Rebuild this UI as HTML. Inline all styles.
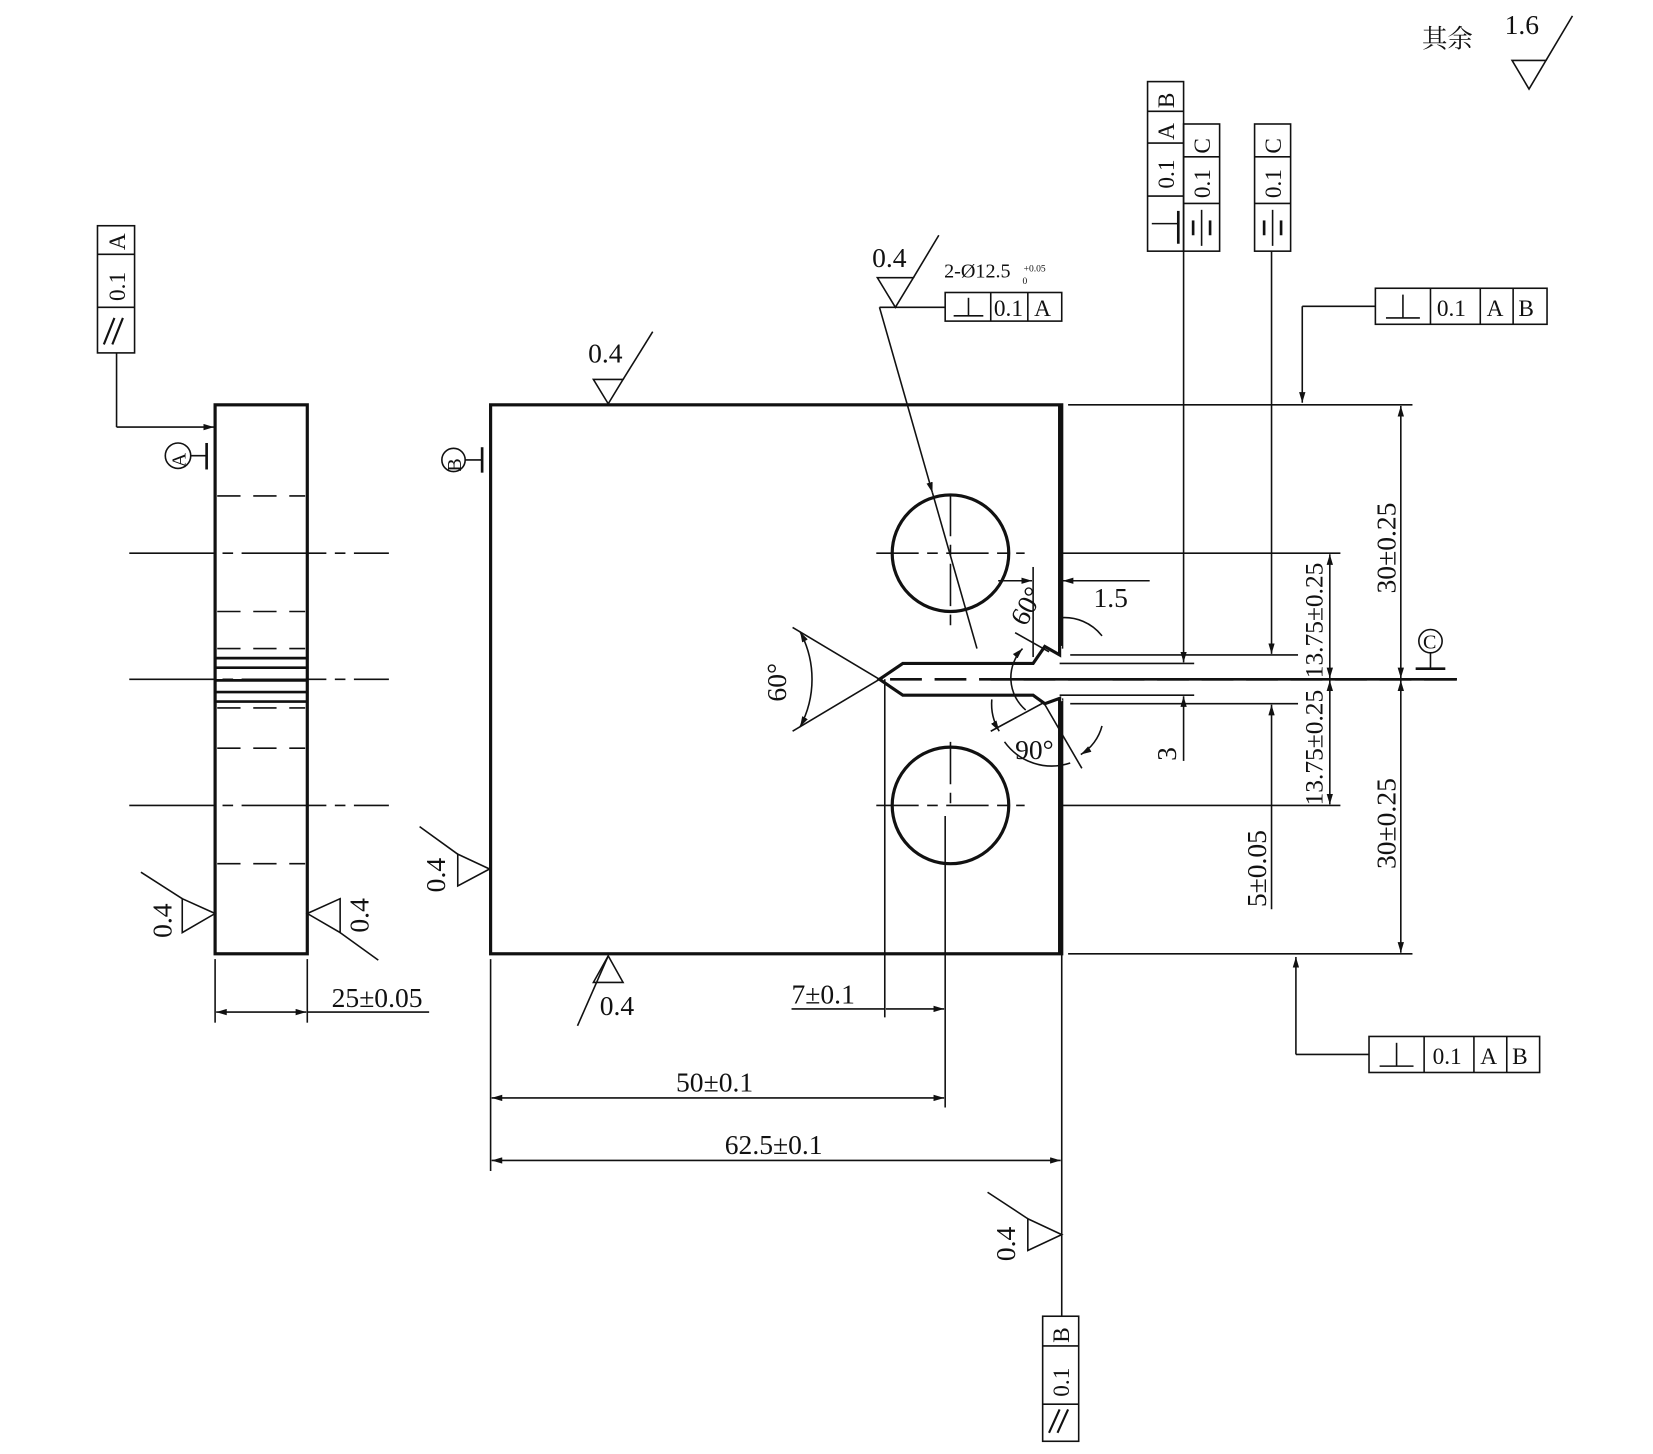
<!DOCTYPE html>
<html><head><meta charset="utf-8"><style>
html,body{margin:0;padding:0;background:#fff;}
svg{display:block;}
text{font-family:"Liberation Serif","Noto Serif CJK SC",serif;fill:#111;}
</style></head><body>
<svg width="1653" height="1454" viewBox="0 0 1560 1372" preserveAspectRatio="none" xmlns="http://www.w3.org/2000/svg">
<defs>
<marker id="ar" viewBox="0 0 10 6" refX="10" refY="3" markerWidth="10" markerHeight="6" orient="auto-start-reverse" markerUnits="userSpaceOnUse"><path d="M0,0L10,3L0,6z" fill="#111"/></marker>
</defs>
<g stroke="#111" fill="none" stroke-width="1.5">
<rect x="203" y="382" width="87" height="518" stroke-width="3"/>
<g stroke-dasharray="22,12" stroke-width="1.5">
<line x1="205" y1="468" x2="288" y2="468"/><line x1="205" y1="577" x2="288" y2="577"/>
<line x1="205" y1="612" x2="288" y2="612"/><line x1="205" y1="668" x2="288" y2="668"/>
<line x1="205" y1="706" x2="288" y2="706"/><line x1="205" y1="815" x2="288" y2="815"/>
</g>
<g stroke-dasharray="80,8,10,8">
<line x1="122" y1="522" x2="367" y2="522"/><line x1="122" y1="641" x2="367" y2="641"/><line x1="122" y1="760" x2="367" y2="760"/>
</g>
<g stroke-width="2.5"><line x1="203" y1="621" x2="290" y2="621"/><line x1="203" y1="630" x2="290" y2="630"/><line x1="203" y1="642" x2="290" y2="642"/><line x1="203" y1="653" x2="290" y2="653"/><line x1="203" y1="662" x2="290" y2="662"/></g>
<circle cx="168" cy="430" r="12"/><line x1="180" y1="430" x2="195" y2="430"/><line x1="195" y1="418" x2="195" y2="443" stroke-width="2.5"/>
<rect x="92" y="213" width="35" height="120"/><line x1="92" y1="240" x2="127" y2="240"/><line x1="92" y1="290" x2="127" y2="290"/>
<line x1="110" y1="333" x2="110" y2="403"/><line x1="110" y1="403" x2="202" y2="403" marker-end="url(#ar)"/>
<line x1="98" y1="325" x2="108" y2="300" stroke-width="2"/><line x1="106" y1="325" x2="116" y2="300" stroke-width="2"/>
<line x1="203" y1="905" x2="203" y2="965"/><line x1="290" y1="905" x2="290" y2="965"/>
<line x1="204" y1="955" x2="289" y2="955" marker-start="url(#ar)" marker-end="url(#ar)"/><line x1="290" y1="955" x2="405" y2="955"/>
<path d="M203,862 L172,848 L172,880 Z"/><line x1="172" y1="848" x2="133" y2="823"/>
<path d="M290,862 L321,848 L321,880 Z"/><line x1="321" y1="880" x2="357" y2="906"/>

<rect x="463" y="382" width="539" height="518" stroke-width="3"/>
<path d="M1002,612 L986,610 L975,626 L852,626 L830,641 L852,656 L975,656 L986,664 L1002,659" fill="#fff" stroke="#fff" stroke-width="5"/>
<line x1="1002" y1="612" x2="1002" y2="659" stroke="#fff" stroke-width="6"/>
<path d="M1000,383 L1000,618 L986,610 L975,626 L852,626 L830,641 L852,656 L975,656 L986,664 L1000,659 L1000,899" stroke-width="3"/>
<line x1="840" y1="641" x2="1375" y2="641" stroke-width="2.5" stroke-dasharray="30,12"/>
<line x1="935" y1="641" x2="1375" y2="641" stroke-width="2.5"/>
<line x1="1010" y1="618" x2="1225" y2="618"/><line x1="1010" y1="664" x2="1225" y2="664"/>
<line x1="1000" y1="626" x2="1127" y2="626"/><line x1="1000" y1="656" x2="1127" y2="656"/>
<circle cx="897" cy="522" r="55" stroke-width="3"/><circle cx="897" cy="760" r="55" stroke-width="3"/>
<g stroke-dasharray="40,8,10,8">
<line x1="827" y1="522" x2="967" y2="522"/><line x1="897" y1="466" x2="897" y2="590"/>
<line x1="827" y1="760" x2="967" y2="760"/><line x1="897" y1="700" x2="897" y2="760"/>
</g>
<line x1="1002" y1="522" x2="1265" y2="522"/><line x1="1002" y1="760" x2="1265" y2="760"/>
<line x1="1008" y1="382" x2="1333" y2="382"/><line x1="1008" y1="900" x2="1333" y2="900"/>
<line x1="1322" y1="383" x2="1322" y2="640" marker-start="url(#ar)" marker-end="url(#ar)"/>
<line x1="1322" y1="642" x2="1322" y2="899" marker-start="url(#ar)" marker-end="url(#ar)"/>
<line x1="1255" y1="523" x2="1255" y2="640" marker-start="url(#ar)" marker-end="url(#ar)"/>
<line x1="1255" y1="642" x2="1255" y2="759" marker-start="url(#ar)" marker-end="url(#ar)"/>
<line x1="1117" y1="237" x2="1117" y2="625" marker-end="url(#ar)"/><line x1="1117" y1="718" x2="1117" y2="657" marker-end="url(#ar)"/>
<line x1="1200" y1="237" x2="1200" y2="617" marker-end="url(#ar)"/><line x1="1200" y1="858" x2="1200" y2="665" marker-end="url(#ar)"/>
<circle cx="1350" cy="605" r="11"/><line x1="1350" y1="616" x2="1350" y2="630"/><line x1="1336" y1="631" x2="1364" y2="631" stroke-width="2.5"/>
<circle cx="428" cy="434" r="11"/><line x1="439" y1="434" x2="455" y2="434"/><line x1="455" y1="422" x2="455" y2="446" stroke-width="2.5"/>
<rect x="1083" y="77" width="34" height="160"/><line x1="1083" y1="105" x2="1117" y2="105"/><line x1="1083" y1="135" x2="1117" y2="135"/><line x1="1083" y1="185" x2="1117" y2="185"/>
<line x1="1087" y1="211" x2="1112" y2="211"/><line x1="1112" y1="199" x2="1112" y2="230" stroke-width="2.5"/>
<rect x="1117" y="117" width="34" height="120"/><line x1="1117" y1="148" x2="1151" y2="148"/><line x1="1117" y1="192" x2="1151" y2="192"/>
<line x1="1126" y1="208" x2="1126" y2="222" stroke-width="2.5"/><line x1="1134" y1="198" x2="1134" y2="232"/><line x1="1142" y1="208" x2="1142" y2="222" stroke-width="2.5"/>
<rect x="1184" y="117" width="34" height="120"/><line x1="1184" y1="148" x2="1218" y2="148"/><line x1="1184" y1="192" x2="1218" y2="192"/>
<line x1="1193" y1="208" x2="1193" y2="222" stroke-width="2.5"/><line x1="1201" y1="198" x2="1201" y2="232"/><line x1="1209" y1="208" x2="1209" y2="222" stroke-width="2.5"/>
<rect x="1298" y="272" width="162" height="34"/><line x1="1350" y1="272" x2="1350" y2="306"/><line x1="1397" y1="272" x2="1397" y2="306"/><line x1="1428" y1="272" x2="1428" y2="306"/>
<line x1="1308" y1="300" x2="1340" y2="300"/><line x1="1324" y1="278" x2="1324" y2="300"/>
<line x1="1298" y1="289" x2="1229" y2="289"/><line x1="1229" y1="289" x2="1229" y2="380" marker-end="url(#ar)"/>
<rect x="1292" y="978" width="161" height="34"/><line x1="1344" y1="978" x2="1344" y2="1012"/><line x1="1391" y1="978" x2="1391" y2="1012"/><line x1="1422" y1="978" x2="1422" y2="1012"/>
<line x1="1302" y1="1006" x2="1334" y2="1006"/><line x1="1318" y1="984" x2="1318" y2="1006"/>
<line x1="1292" y1="995" x2="1223" y2="995"/><line x1="1223" y1="995" x2="1223" y2="903" marker-end="url(#ar)"/>
<rect x="892" y="276" width="110" height="27"/><line x1="935" y1="276" x2="935" y2="303"/><line x1="970" y1="276" x2="970" y2="303"/>
<line x1="900" y1="298" x2="928" y2="298"/><line x1="914" y1="281" x2="914" y2="298"/>
<line x1="892" y1="290" x2="830" y2="290"/><line x1="830" y1="290" x2="880" y2="465" marker-end="url(#ar)"/>
<line x1="880" y1="465" x2="922" y2="612"/>
<path d="M828,262 L862,262 L845,290 Z"/><line x1="862" y1="262" x2="886" y2="222"/>
<line x1="1002" y1="900" x2="1002" y2="1242"/>
<rect x="984" y="1242" width="34" height="118"/><line x1="984" y1="1270" x2="1018" y2="1270"/><line x1="984" y1="1325" x2="1018" y2="1325"/>
<line x1="990" y1="1352" x2="1000" y2="1330" stroke-width="2"/><line x1="998" y1="1352" x2="1008" y2="1330" stroke-width="2"/>
<path d="M1002,1165 L970,1150 L970,1180 Z"/><line x1="970" y1="1150" x2="932" y2="1125"/>
<path d="M560,358 L588,358 L574,381 Z"/><line x1="588" y1="358" x2="616" y2="313"/>
<path d="M462,820 L432,806 L432,836 Z"/><line x1="432" y1="806" x2="396" y2="780"/>
<path d="M574,902 L560,927 L588,927 Z"/><line x1="574" y1="902" x2="545" y2="968"/>
<line x1="835" y1="641" x2="835" y2="960"/><line x1="892" y1="770" x2="892" y2="1045"/>
<line x1="747" y1="952" x2="835" y2="952"/><line x1="836" y1="952" x2="891" y2="952" marker-end="url(#ar)"/>
<line x1="463" y1="905" x2="463" y2="1105"/>
<line x1="464" y1="1036" x2="891" y2="1036" marker-start="url(#ar)" marker-end="url(#ar)"/>
<line x1="464" y1="1095" x2="1001" y2="1095" marker-start="url(#ar)" marker-end="url(#ar)"/>
<line x1="975" y1="535" x2="975" y2="620"/>
<line x1="942" y1="548" x2="974" y2="548" marker-end="url(#ar)"/><line x1="1085" y1="548" x2="1003" y2="548" marker-end="url(#ar)"/>
<line x1="830" y1="641" x2="748" y2="592"/><line x1="830" y1="641" x2="748" y2="690"/>
<path d="M755,596 A95,95 0 0 1 755,686" marker-start="url(#ar)" marker-end="url(#ar)"/>
<line x1="958" y1="597" x2="990" y2="615"/>
<path d="M968,670 A40,40 0 0 1 965,612" marker-end="url(#ar)"/>
<path d="M1000,583 A45,45 0 0 1 1040,600"/>
<line x1="985" y1="663" x2="1021" y2="725"/><line x1="985" y1="663" x2="935" y2="690"/>
<path d="M936,660 A50,50 0 0 0 943,690" marker-end="url(#ar)"/>
<path d="M1040,685 A45,45 0 0 1 1020,712" marker-end="url(#ar)"/>
<path d="M948,700 A55,55 0 0 0 1010,720"/>
<path d="M1427,57 L1459,57 L1443,84 Z"/><line x1="1459" y1="57" x2="1484" y2="15"/>
</g>
<g font-size="26">
<text x="1342" y="45" font-size="24">其余</text>
<text x="1420" y="32">1.6</text>
<text x="555" y="342">0.4</text>
<text x="823" y="252">0.4</text>
<text x="566" y="958">0.4</text>
<text x="313" y="950">25±0.05</text>
<text x="747" y="947">7±0.1</text>
<text x="638" y="1030">50±0.1</text>
<text x="684" y="1089">62.5±0.1</text>
<text x="1032" y="573">1.5</text>
<text transform="translate(968,592) rotate(-62)">60°</text>
<text transform="translate(742,662) rotate(-90)">60°</text>
<text x="958" y="716">90°</text>
<text transform="translate(1317,560) rotate(-90)">30±0.25</text>
<text transform="translate(1317,820) rotate(-90)">30±0.25</text>
<text transform="translate(1248,640) rotate(-90)" font-size="24">13.75±0.25</text>
<text transform="translate(1248,760) rotate(-90)" font-size="24">13.75±0.25</text>
<text transform="translate(1110,718) rotate(-90)">3</text>
<text transform="translate(1195,856) rotate(-90)">5±0.05</text>
<text transform="translate(162,885) rotate(-90)">0.4</text>
<text transform="translate(348,880) rotate(-90)">0.4</text>
<text transform="translate(420,842) rotate(-90)">0.4</text>
<text transform="translate(958,1190) rotate(-90)">0.4</text>
</g>
<g font-size="22">
<text x="891" y="262" font-family="Liberation Sans" font-size="19">2-Ø12.5</text>
<text x="966" y="256" font-family="Liberation Sans" font-size="9">+0.05</text>
<text x="965" y="268" font-family="Liberation Sans" font-size="9">0</text>
<text x="938" y="298">0.1</text><text x="976" y="298">A</text>
<text x="1356" y="298">0.1</text><text x="1403" y="298">A</text><text x="1433" y="298">B</text>
<text x="1352" y="1004">0.1</text><text x="1397" y="1004">A</text><text x="1427" y="1004">B</text>
<text transform="translate(1108,102) rotate(-90)">B</text>
<text transform="translate(1108,132) rotate(-90)">A</text>
<text transform="translate(1108,178) rotate(-90)">0.1</text>
<text transform="translate(1142,145) rotate(-90)">C</text>
<text transform="translate(1142,187) rotate(-90)">0.1</text>
<text transform="translate(1209,145) rotate(-90)">C</text>
<text transform="translate(1209,187) rotate(-90)">0.1</text>
<text transform="translate(118,236) rotate(-90)">A</text>
<text transform="translate(118,284) rotate(-90)">0.1</text>
<text transform="translate(1009,1267) rotate(-90)">B</text>
<text transform="translate(1009,1318) rotate(-90)">0.1</text>
<text transform="translate(175,441) rotate(-90)" font-size="19">A</text>
<text transform="translate(435,445) rotate(-90)" font-size="19">B</text>
<text x="1343" y="612" font-size="19">C</text>
</g>
</svg>
</body></html>
